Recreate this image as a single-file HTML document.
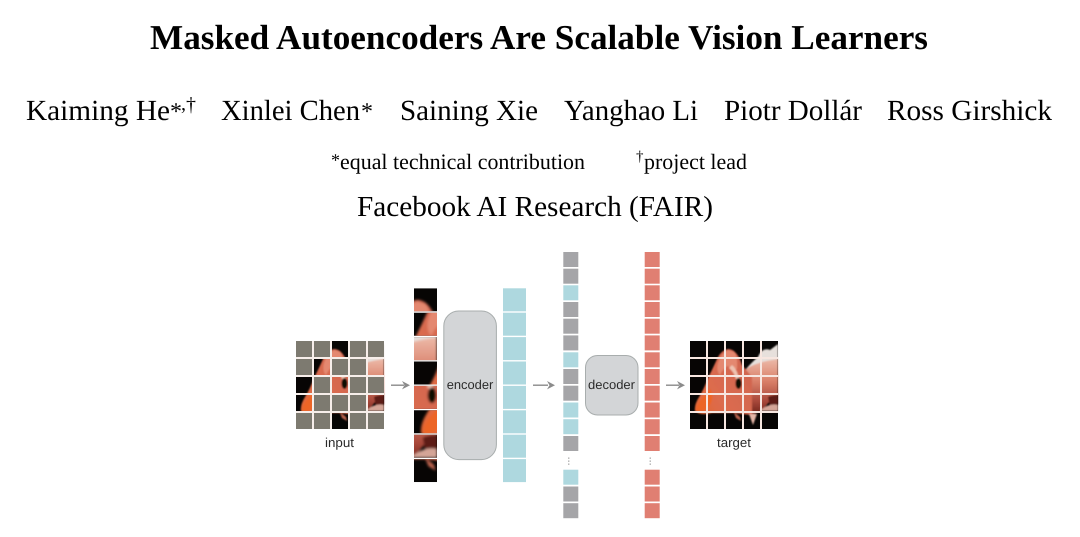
<!DOCTYPE html>
<html>
<head>
<meta charset="utf-8">
<style>
html,body{margin:0;padding:0;background:#fff;width:1080px;height:537px;overflow:hidden}
svg{display:block}
.s{font-family:"Liberation Serif",serif;fill:#000}
.a{font-family:"Liberation Sans",sans-serif;fill:#2a2a2a}
</style>
</head>
<body>
<svg width="1080" height="537" viewBox="0 0 1080 537" xmlns="http://www.w3.org/2000/svg" text-rendering="geometricPrecision">
<defs>
<linearGradient id="g1" x1="0" y1="1" x2="1" y2="0.3"><stop offset="0" stop-color="#e4642e"/><stop offset=".4" stop-color="#dc6c4e"/><stop offset="1" stop-color="#cf6450"/></linearGradient>
<linearGradient id="g2" x1="0" y1="0" x2="0" y2="1"><stop offset="0" stop-color="#ecb9a8"/><stop offset=".4" stop-color="#d97f68"/><stop offset=".75" stop-color="#a8483a"/><stop offset="1" stop-color="#6e2219"/></linearGradient>
<filter id="b" x="-5%" y="-5%" width="110%" height="110%"><feGaussianBlur stdDeviation="0.9"/></filter>
<g id="f">
<rect x="0" y="0" width="88" height="88" fill="#070504"/>
<g filter="url(#b)">
<path d="M68 16Q72 6 80 9L88 3V22L70 26Q62 31 56 28Q62 21 68 16Z" fill="#e7e0dc"/>
<path d="M56 28Q66 21 88 18V55Q80 58 74 68Q68 72 60 74L44 72Z" fill="url(#g2)"/>
<path d="M38 8Q32 9 28 16Q23 27 18 37Q14 48 9 56Q4 64 5 70Q10 75 22 72Q34 72 44 72L62 74V36Q57 30 52 24Q49 14 44 10Q41 8 38 8Z" fill="url(#g1)"/>
<path d="M38 9Q31 13 28 22Q26 30 30 34Q34 26 38 25Q43 30 47 28Q48 16 44 11Z" fill="#e4886f"/>
<path d="M42 24Q46 27 48 34L50 38L46 38Q44 31 39 27Z" fill="#eec2b0"/>
<path d="M10 60Q6 66 7 70Q16 71 21 62Q24 54 20 48Z" fill="#ec6528"/>
<ellipse cx="48.5" cy="42.5" rx="3" ry="5.5" fill="#0b0706"/>
<path d="M78 56Q82 54 88 54V64L80 66Z" fill="#5d1a13"/>
<path d="M72 68Q80 62 88 64V70H70Z" fill="#d4a597"/>
<path d="M59 73L63 84L67 73Z" fill="#e6b7a8"/>
<path d="M44 72Q47 73 50 76L51 80L46 77Z" fill="#b8614c"/>
</g>
</g>
</defs>
<rect width="1080" height="537" fill="#fff"/>

<text class="s" x="150" y="49" font-size="34.9" font-weight="bold" textLength="778" lengthAdjust="spacingAndGlyphs">Masked Autoencoders Are Scalable Vision Learners</text>

<text class="s" x="26" y="120" font-size="29.2" textLength="144" lengthAdjust="spacingAndGlyphs">Kaiming He</text>
<text class="s" x="170" y="119" font-size="24">*</text>
<text class="s" x="181" y="110" font-size="20">,</text>
<text class="s" x="186" y="111" font-size="20">†</text>
<text class="s" x="221" y="120" font-size="29.2" textLength="139" lengthAdjust="spacingAndGlyphs">Xinlei Chen</text>
<text class="s" x="361" y="119" font-size="24">*</text>
<text class="s" x="400" y="120" font-size="29.2" textLength="138" lengthAdjust="spacingAndGlyphs">Saining Xie</text>
<text class="s" x="564" y="120" font-size="29.2" textLength="134" lengthAdjust="spacingAndGlyphs">Yanghao Li</text>
<text class="s" x="724" y="120" font-size="29.2" textLength="138" lengthAdjust="spacingAndGlyphs">Piotr Dollár</text>
<text class="s" x="887" y="120" font-size="29.2" textLength="165" lengthAdjust="spacingAndGlyphs">Ross Girshick</text>
<text class="s" x="357" y="216" font-size="29" textLength="356" lengthAdjust="spacingAndGlyphs">Facebook AI Research (FAIR)</text>

<text class="s" x="331" y="166" font-size="18">*</text>
<text class="s" x="340" y="169" font-size="22" textLength="245" lengthAdjust="spacingAndGlyphs">equal technical contribution</text>
<text class="s" x="636" y="161" font-size="15">†</text>
<text class="s" x="644" y="169" font-size="22" textLength="103" lengthAdjust="spacingAndGlyphs">project lead</text>

<!-- input -->
<g transform="translate(296,341)">
<use href="#f"/>
<g fill="#7d7a70">
<rect x="0" y="0" width="16" height="16"/><rect x="18" y="0" width="16" height="16"/><rect x="54" y="0" width="16" height="16"/><rect x="72" y="0" width="16" height="16"/>
<rect x="0" y="18" width="16" height="16"/><rect x="36" y="18" width="16" height="16"/><rect x="54" y="18" width="16" height="16"/>
<rect x="18" y="36" width="16" height="16"/><rect x="54" y="36" width="16" height="16"/><rect x="72" y="36" width="16" height="16"/>
<rect x="18" y="54" width="16" height="16"/><rect x="36" y="54" width="16" height="16"/><rect x="54" y="54" width="16" height="16"/>
<rect x="0" y="72" width="16" height="16"/><rect x="18" y="72" width="16" height="16"/><rect x="54" y="72" width="16" height="16"/><rect x="72" y="72" width="16" height="16"/>
</g>
<g fill="#f7eeea">
<rect x="16" y="0" width="2" height="88"/><rect x="34" y="0" width="2" height="88"/><rect x="52" y="0" width="2" height="88"/><rect x="70" y="0" width="2" height="88"/>
<rect x="0" y="16" width="88" height="2"/><rect x="0" y="34" width="88" height="2"/><rect x="0" y="52" width="88" height="2"/><rect x="0" y="70" width="88" height="2"/>
</g>
</g>
<text class="a" x="325" y="447" font-size="13" textLength="29" lengthAdjust="spacingAndGlyphs">input</text>

<!-- patches -->
<svg x="414" y="288.3" width="23" height="23" viewBox="36 0 16 16"><use href="#f"/></svg>
<svg x="414" y="312.7" width="23" height="23" viewBox="18 18 16 16"><use href="#f"/></svg>
<svg x="414" y="337.1" width="23" height="23" viewBox="72 18 16 16"><use href="#f"/></svg>
<svg x="414" y="361.5" width="23" height="23" viewBox="0 36 16 16"><use href="#f"/></svg>
<svg x="414" y="385.9" width="23" height="23" viewBox="36 36 16 16"><use href="#f"/></svg>
<svg x="414" y="410.3" width="23" height="23" viewBox="0 54 16 16"><use href="#f"/></svg>
<svg x="414" y="434.7" width="23" height="23" viewBox="72 54 16 16"><use href="#f"/></svg>
<svg x="414" y="459.1" width="23" height="23" viewBox="36 72 16 16"><use href="#f"/></svg>

<!-- encoder -->
<rect x="443.8" y="311" width="52.6" height="148.6" rx="15" fill="#d3d5d7" stroke="#a8adad" stroke-width="1"/>
<text class="a" x="446.7" y="389" font-size="12.9" textLength="46.6" lengthAdjust="spacingAndGlyphs">encoder</text>

<!-- encoded -->
<g fill="#aed8df">
<rect x="503" y="288.3" width="23" height="23"/><rect x="503" y="312.7" width="23" height="23"/><rect x="503" y="337.1" width="23" height="23"/><rect x="503" y="361.5" width="23" height="23"/>
<rect x="503" y="385.9" width="23" height="23"/><rect x="503" y="410.3" width="23" height="23"/><rect x="503" y="434.7" width="23" height="23"/><rect x="503" y="459.1" width="23" height="23"/>
</g>

<!-- mixed tokens -->
<g fill="#a5a5a8">
<rect x="563.3" y="252" width="15" height="15"/><rect x="563.3" y="268.7" width="15" height="15"/>
<rect x="563.3" y="302" width="15" height="15"/><rect x="563.3" y="318.7" width="15" height="15"/><rect x="563.3" y="335.4" width="15" height="15"/>
<rect x="563.3" y="369" width="15" height="15"/><rect x="563.3" y="385.7" width="15" height="15"/>
<rect x="563.3" y="436" width="15" height="15"/>
<rect x="563.3" y="486.5" width="15" height="15"/><rect x="563.3" y="503.2" width="15" height="15"/>
</g>
<g fill="#aed8df">
<rect x="563.3" y="285.3" width="15" height="15"/><rect x="563.3" y="352.3" width="15" height="15"/>
<rect x="563.3" y="402.5" width="15" height="15"/><rect x="563.3" y="419.2" width="15" height="15"/>
<rect x="563.3" y="469.7" width="15" height="15"/>
</g>
<g fill="#888"><rect x="568.3" y="457.5" width="1" height="1.3"/><rect x="568.3" y="460.5" width="1" height="1.3"/><rect x="568.3" y="463.5" width="1" height="1.3"/>
<rect x="649.7" y="457.5" width="1" height="1.3"/><rect x="649.7" y="460.5" width="1" height="1.3"/><rect x="649.7" y="463.5" width="1" height="1.3"/></g>

<!-- decoder -->
<rect x="585.5" y="355.5" width="52.5" height="59.5" rx="12" fill="#d3d5d7" stroke="#a8adad" stroke-width="1"/>
<text class="a" x="588" y="389" font-size="12.9" textLength="47" lengthAdjust="spacingAndGlyphs">decoder</text>

<!-- output tokens -->
<g fill="#e07f72">
<rect x="644.7" y="252" width="15" height="15"/><rect x="644.7" y="268.7" width="15" height="15"/><rect x="644.7" y="285.3" width="15" height="15"/>
<rect x="644.7" y="302" width="15" height="15"/><rect x="644.7" y="318.7" width="15" height="15"/><rect x="644.7" y="335.4" width="15" height="15"/>
<rect x="644.7" y="352.3" width="15" height="15"/><rect x="644.7" y="369" width="15" height="15"/><rect x="644.7" y="385.7" width="15" height="15"/>
<rect x="644.7" y="402.5" width="15" height="15"/><rect x="644.7" y="419.2" width="15" height="15"/><rect x="644.7" y="436" width="15" height="15"/>
<rect x="644.7" y="469.7" width="15" height="15"/><rect x="644.7" y="486.5" width="15" height="15"/><rect x="644.7" y="503.2" width="15" height="15"/>
</g>

<!-- target -->
<g transform="translate(690,341)">
<use href="#f"/>
<g fill="#f7e6e0">
<rect x="16" y="0" width="2" height="88"/><rect x="34" y="0" width="2" height="88"/><rect x="52" y="0" width="2" height="88"/><rect x="70" y="0" width="2" height="88"/>
<rect x="0" y="16" width="88" height="2"/><rect x="0" y="34" width="88" height="2"/><rect x="0" y="52" width="88" height="2"/><rect x="0" y="70" width="88" height="2"/>
</g>
</g>
<text class="a" x="717" y="447" font-size="13" textLength="34" lengthAdjust="spacingAndGlyphs">target</text>

<!-- arrows -->
<g fill="#8b8b8b">
<rect x="391" y="384.5" width="13" height="1.4"/><path d="M402 381L410 385.2L402 389.4L404.5 385.2Z"/>
<rect x="533" y="384.5" width="15" height="1.4"/><path d="M547 381L555 385.2L547 389.4L549.5 385.2Z"/>
<rect x="666" y="384.5" width="13" height="1.4"/><path d="M677 381L685 385.2L677 389.4L679.5 385.2Z"/>
</g>
</svg>
</body>
</html>
